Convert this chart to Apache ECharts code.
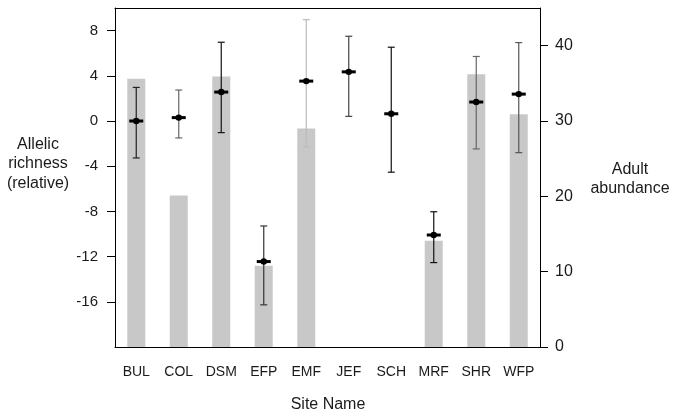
<!DOCTYPE html>
<html style="height: 100%">
<head>
    <meta charset="utf-8">
    <title>Allelic richness and adult abundance</title>
</head>
<body style="height: 100%; margin: 0; background: #fff">
<div id="container" style="width: 674px; height: 417px"></div>
<script type="text/javascript" src="https://cdn.jsdelivr.net/npm/echarts@6/dist/echarts.min.js"></script>
<script type="text/javascript">
    var sites = ['BUL', 'COL', 'DSM', 'EFP', 'EMF', 'JEF', 'SCH', 'MRF', 'SHR', 'WFP'];
    // adult abundance (right axis), gray bars
    var abundance = [35.6, 20.1, 35.9, 10.8, 29.0, 0, 0, 14.1, 36.2, 30.9];
    // allelic richness (relative, left axis): mean, lower, upper
    var richness = [0.0, 0.3, 2.56, -12.44, 3.53, 4.35, 0.64, -10.09, 1.68, 2.38];
    var richLow = [-3.27, -1.5, -1.03, -16.27, -2.29, 0.41, -4.53, -12.53, -2.47, -2.8];
    var richHigh = [2.97, 2.74, 6.97, -9.29, 8.97, 7.5, 6.53, -8.03, 5.71, 6.94];
    var leftTicks = [-16, -12, -8, -4, 0, 4, 8];
    var rightTicks = [0, 10, 20, 30, 40];
    var whiskerColors = ['#222', '#666', '#111', '#333', '#bbb', '#444', '#111', '#111', '#666', '#555'];

    var dom = document.getElementById('container');
    var myChart = echarts.init(dom);

    var errData = [];
    for (var i = 0; i < sites.length; i++) {
        errData.push([i, richness[i], richLow[i], richHigh[i]]);
    }

    var font = 'Liberation Sans, Arial, sans-serif';

    function renderErr(params, api) {
        var idx = params.dataIndex;
        var x = api.value(0);
        var mid = api.coord([x, api.value(1)]);
        var lo = api.coord([x, api.value(2)]);
        var hi = api.coord([x, api.value(3)]);
        var c = whiskerColors[idx];
        var ls = { stroke: c, lineWidth: 1.2 };
        return {
            type: 'group',
            children: [
                { type: 'line', shape: { x1: mid[0], y1: lo[1], x2: mid[0], y2: hi[1] }, style: ls },
                { type: 'line', shape: { x1: mid[0] - 3.5, y1: lo[1], x2: mid[0] + 3.5, y2: lo[1] }, style: ls },
                { type: 'line', shape: { x1: mid[0] - 3.5, y1: hi[1], x2: mid[0] + 3.5, y2: hi[1] }, style: ls },
                { type: 'line', shape: { x1: mid[0] - 7, y1: mid[1], x2: mid[0] + 7, y2: mid[1] }, style: { stroke: '#000', lineWidth: 3 } },
                { type: 'circle', shape: { cx: mid[0], cy: mid[1], r: 3.2 }, style: { fill: '#000' } }
            ]
        };
    }

    function label(txt, x, y, size) {
        return {
            type: 'text', x: x, y: y,
            style: { text: txt, fill: '#1a1a1a', font: size + 'px ' + font, textAlign: 'center', textVerticalAlign: 'middle' }
        };
    }

    var option = {
        animation: false,
        backgroundColor: '#fff',
        textStyle: { fontFamily: font },
        grid: { left: 115, right: 134, top: 8, bottom: 70 },
        xAxis: [{
            type: 'category',
            data: sites,
            position: 'bottom',
            axisLine: { onZero: false, lineStyle: { color: '#000', width: 1 } },
            axisTick: { alignWithLabel: true, length: 8, lineStyle: { color: '#000' } },
            axisLabel: { color: '#1a1a1a', fontSize: 14, margin: 18, fontFamily: font },
            splitLine: { show: false }
        }, {
            type: 'category',
            data: sites,
            position: 'top',
            axisLine: { onZero: false, lineStyle: { color: '#000', width: 1 } },
            axisTick: { show: false },
            axisLabel: { show: false }
        }],
        yAxis: [{
            type: 'value',
            position: 'left',
            min: -20,
            max: 10,
            axisLine: { show: true, onZero: false, lineStyle: { color: '#000', width: 1 } },
            axisTick: { show: true, length: 8, customValues: leftTicks, lineStyle: { color: '#000' } },
            axisLabel: { customValues: leftTicks, color: '#1a1a1a', fontSize: 15, margin: 17, fontFamily: font },
            splitLine: { show: false }
        }, {
            type: 'value',
            position: 'right',
            min: 0,
            max: 45,
            axisLine: { show: true, onZero: false, lineStyle: { color: '#000', width: 1 } },
            axisTick: { show: true, length: 8, customValues: rightTicks, lineStyle: { color: '#000' } },
            axisLabel: { customValues: rightTicks, color: '#1a1a1a', fontSize: 16, margin: 15, fontFamily: font },
            splitLine: { show: false }
        }],
        graphic: [
            label('Allelic', 38, 145, 16),
            label('richness', 38, 164, 16),
            label('(relative)', 38, 184, 16),
            label('Adult', 630, 170, 16),
            label('abundance', 630, 189, 16),
            label('Site Name', 328, 405, 16)
        ],
        series: [{
            name: 'Adult abundance',
            type: 'bar',
            xAxisIndex: 0,
            yAxisIndex: 1,
            barWidth: 18,
            itemStyle: { color: '#c8c8c8' },
            data: abundance
        }, {
            name: 'Allelic richness',
            type: 'custom',
            xAxisIndex: 0,
            yAxisIndex: 0,
            renderItem: renderErr,
            encode: { x: 0, y: [1, 2, 3] },
            data: errData,
            z: 5
        }]
    };

    myChart.setOption(option, true);
</script>
</body>
</html>
